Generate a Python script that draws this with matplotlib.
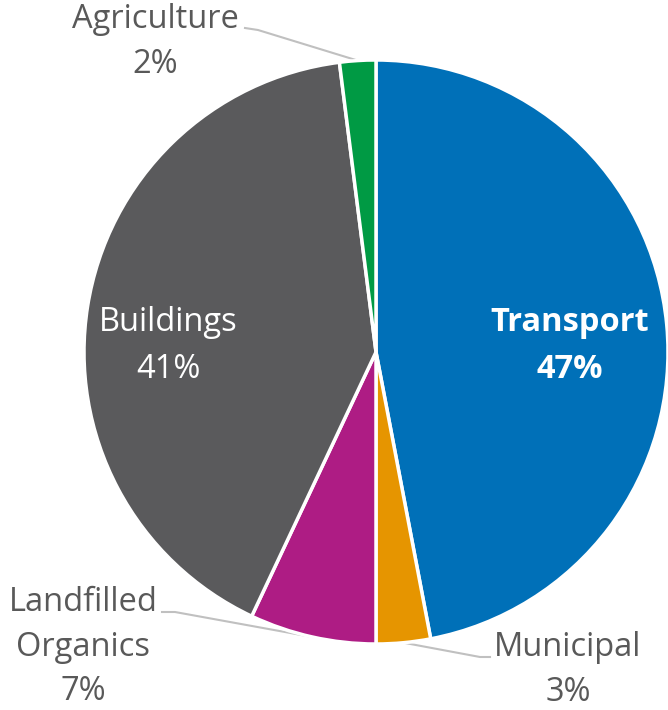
import matplotlib
matplotlib.use("Agg")
import matplotlib.pyplot as plt
import numpy as np

plt.rcParams['font.family'] = ['Open Sans', 'DejaVu Sans']

categories = ["Transport", "Municipal", "Landfilled\nOrganics", "Buildings", "Agriculture"]
values = [47, 3, 7, 41, 2]
colors = ["#0070B8", "#E69500", "#AE1C84", "#5A5A5C", "#009A44"]

W, H = 668, 710
fig = plt.figure(figsize=(W / 100, H / 100), dpi=100)
cx, cy, r = 376, 352, 292
ax = fig.add_axes([(cx - r) / W, (H - cy - r) / H, 2 * r / W, 2 * r / H])

wedges, _ = ax.pie(values, colors=colors, startangle=90, counterclock=False, radius=1,
                   wedgeprops=dict(edgecolor='white', linewidth=2.5))
ax.set_xlim(-1, 1)
ax.set_ylim(-1, 1)
ax.set_aspect('equal')
ax.axis('off')

def px(x, y):
    return ((x - cx) / r, (cy - y) / r)

grey = "#595959"
lead = "#C0C0C0"
fs = 23.5
ls = 1.45

# inside labels
tx, ty = px(570, 346)
ax.text(tx, ty, f"{categories[0]}\n{values[0]}%", color='white', fontsize=fs, fontweight='bold',
        ha='center', va='center', linespacing=1.55)
bx, by = px(168, 346)
ax.text(bx, by, f"{categories[3]}\n{values[3]}%", color='white', fontsize=fs,
        ha='center', va='center', linespacing=1.55)

# outside labels with leader lines
outside = [
    (4, px(155, 42), [px(245, 28), px(258, 30)]),
    (2, px(83, 647), [px(162, 612), px(175, 612)]),
    (1, px(568, 670), [px(490, 657), px(480, 657)]),
]
for idx, (lx, ly), pts in outside:
    w = wedges[idx]
    ang = np.deg2rad((w.theta1 + w.theta2) / 2)
    ex, ey = np.cos(ang), np.sin(ang)
    xs = [p[0] for p in pts] + [ex]
    ys = [p[1] for p in pts] + [ey]
    ax.plot(xs, ys, color=lead, linewidth=1.5, clip_on=False, zorder=0)
    ax.text(lx, ly, f"{categories[idx]}\n{values[idx]}%", color=grey, fontsize=fs,
            ha='center', va='center', linespacing=ls)

fig.savefig("out.png", dpi=100)
